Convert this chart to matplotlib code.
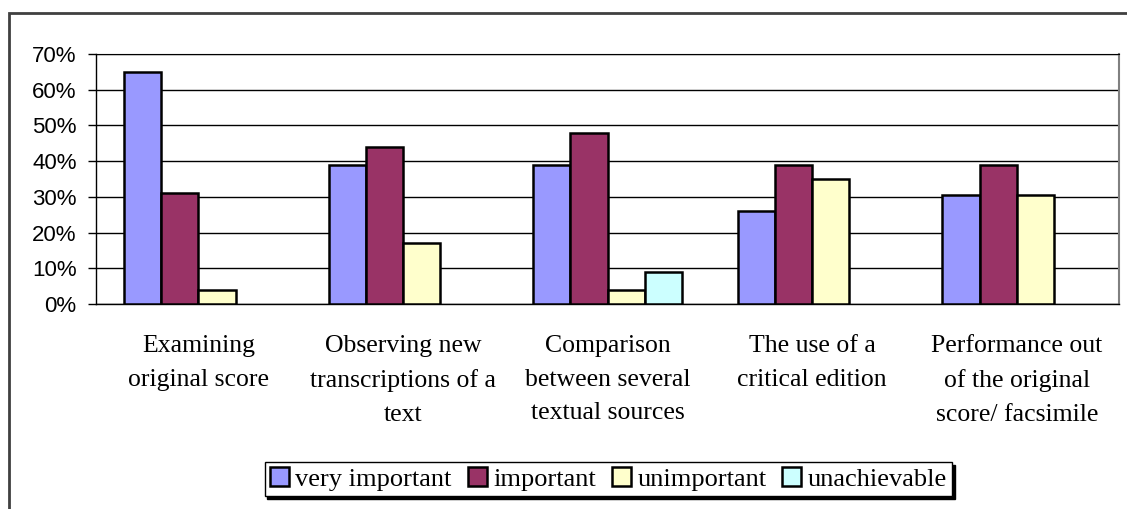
import numpy as np
import matplotlib
matplotlib.use("Agg")
import matplotlib.pyplot as plt
from matplotlib.patches import Rectangle
from matplotlib.transforms import blended_transform_factory

categories = ["Examining\noriginal score",
              "Observing new\ntranscriptions of a\ntext",
              "Comparison\nbetween several\ntextual sources",
              "The use of a\ncritical edition",
              "Performance out\nof the original\nscore/ facsimile"]
series_names = ["very important", "important", "unimportant", "unachievable"]
very_important = [65, 39, 39, 26, 30.4]
important = [31, 44, 48, 39, 39]
unimportant = [4, 17, 4, 35, 30.4]
unachievable = [np.nan, np.nan, 9, np.nan, np.nan]
yticks = [0, 10, 20, 30, 40, 50, 60, 70]
colors = ["#9999FF", "#993366", "#FFFFCC", "#CCFFFF"]

W, H = 1127, 509
fig = plt.figure(figsize=(W / 100, H / 100), dpi=100)
fig.patch.set_facecolor("white")

# outer chart border
fig.add_artist(Rectangle((9 / W, -0.1), 1.2, 1 - 13 / H + 0.1, transform=fig.transFigure,
                         fill=False, edgecolor="#404040", lw=2))

ax = fig.add_axes([96 / W, 1 - 304 / H, (1119 - 96) / W, (304 - 54) / H])
n = len(categories)
x = np.arange(n)
slot = 1 / 5.5
data = [very_important, important, unimportant, unachievable]
for i, (vals, c, name) in enumerate(zip(data, colors, series_names)):
    ax.bar(x + (i - 1.5) * slot, vals, width=slot, color=c, edgecolor="black",
           linewidth=1.8, label=name, zorder=3)

ax.set_xlim(-0.5, n - 0.5)
ax.set_ylim(0, 70)
ax.set_yticks(yticks)
ax.set_yticklabels([f"{v}%" for v in yticks], fontfamily="Liberation Sans", fontsize=16)
ax.tick_params(axis="y", direction="out", length=6, width=1, pad=8, colors="black")
ax.set_xticks([])
ax.yaxis.grid(True, color="black", lw=1, zorder=0)
ax.set_axisbelow(True)
for s in ["left", "bottom"]:
    ax.spines[s].set_color("black")
    ax.spines[s].set_linewidth(1)
ax.spines["right"].set_color("#808080")
ax.spines["top"].set_color("black")
ax.spines["right"].set_linewidth(1.5)

tr = blended_transform_factory(ax.transData, fig.transFigure)
for xi, lab in zip(x, categories):
    ax.text(xi, 1 - 335 / H, lab, transform=tr, ha="center", va="top",
            fontfamily="Liberation Serif", fontsize=18.5, linespacing=1.68,
            multialignment="center")

leg = fig.legend(loc="center", bbox_to_anchor=(608.5 / W, 1 - 479 / H), ncol=4,
                 frameon=True, fancybox=False, shadow={"color": "black", "alpha": 1},
                 prop={"family": "Liberation Serif", "size": 19},
                 handlelength=0.72, handleheight=0.72, handletextpad=0.25,
                 columnspacing=0.6, borderpad=0.2, borderaxespad=0)
leg.get_frame().set_edgecolor("black")
leg.get_frame().set_linewidth(1)

fig.savefig("out.png", dpi=100)
